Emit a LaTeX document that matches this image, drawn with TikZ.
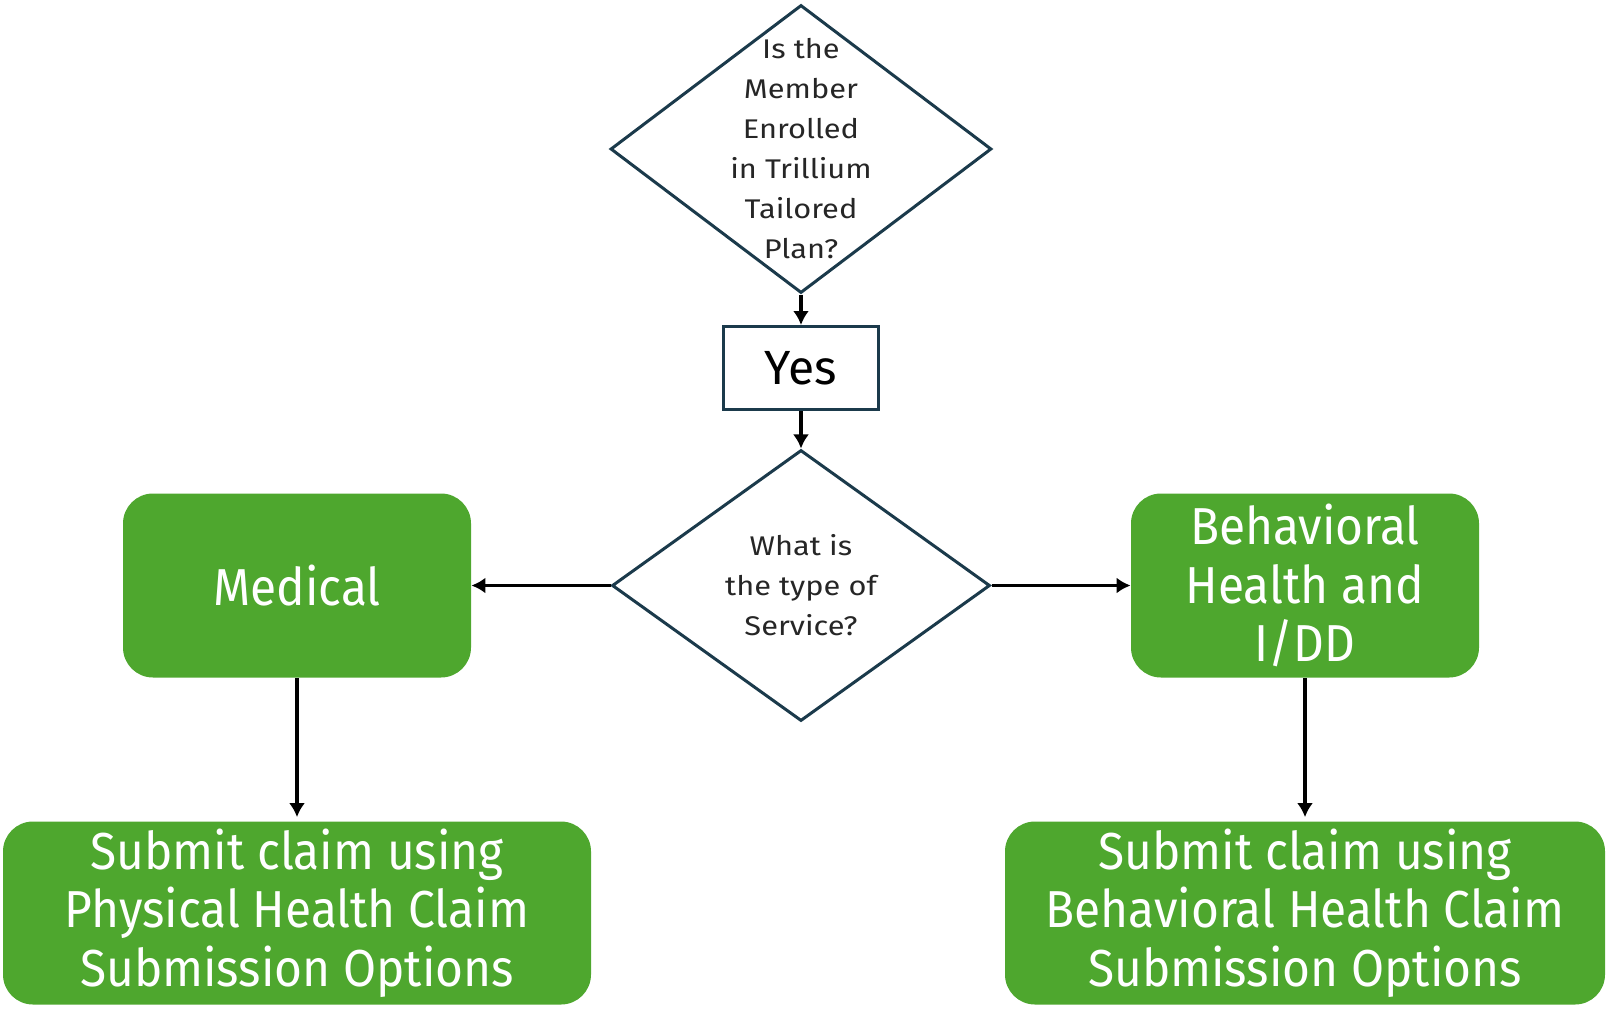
\documentclass[tikz,border=0pt]{standalone}
\usepackage{fontspec}
\setmainfont{Fira Sans}
\newfontfamily\askfont[FakeStretch=1.14]{Fira Sans}
\newfontfamily\boxfont[FakeStretch=0.92]{Fira Sans}
\usetikzlibrary{arrows.meta,positioning,shapes.geometric}

\definecolor{leafgreen}{RGB}{78,167,46}
\definecolor{navy}{RGB}{27,58,75}
\definecolor{inkgray}{RGB}{38,38,38}

\tikzset{
  decision/.style={diamond, draw=navy, line width=1.5pt, fill=white, inner sep=0pt},
  asktext/.style={text=inkgray, align=center, inner sep=0pt, font=\askfont\fontsize{13.5}{20}\selectfont},
  answer/.style={rectangle, draw=navy, line width=1.5pt, minimum width=77.5pt, minimum height=41.5pt, font=\fontsize{24}{28}\selectfont},
  service/.style={rectangle, rounded corners=15pt, fill=leafgreen, text=white, align=center, minimum height=92pt, font=\boxfont\fontsize{26}{29.3}\selectfont},
  flow/.style={->, >={Latex[length=7pt,width=8pt]}, line width=1.6pt}
}

\begin{document}
\begin{tikzpicture}[x=0.5pt,y=-0.5pt,node distance=2cm,on grid]
  \useasboundingbox (0,0) rectangle (1613,1008);

  % questions and the yes answer down the middle
  \node [decision, minimum width=190.5pt, minimum height=144pt,
         label={[asktext]center:Is the\\Member\\Enrolled\\in Trillium\\Tailored\\Plan?}] (enrolled) at (801,149) {};
  \node [answer] (yes) [below=109.5pt of enrolled] {Yes};
  \node [decision, minimum width=189pt, minimum height=135.5pt,
         label={[asktext]center:What is\\the type of\\Service?}] (svctype) [below=108.75pt of yes] {};

  % the two kinds of service
  \node [service, minimum width=174pt] (medical) [left=252pt of svctype] {Medical};
  \node [service, minimum width=174pt] (behav) [right=252pt of svctype] {Behavioral\\Health and\\I/DD};

  % where the claim goes
  \node [service, minimum width=294pt, minimum height=91.5pt] (physclaim) [below=163.75pt of medical] {Submit claim using\\Physical Health Claim\\Submission Options};
  \node [service, minimum width=300pt, minimum height=91.5pt] (behclaim) [below=163.75pt of behav] {Submit claim using\\Behavioral Health Claim\\Submission Options};

  \path [flow]
    (enrolled) edge (yes)
    (yes)      edge (svctype)
    (svctype)  edge (medical)
               edge (behav)
    (medical)  edge [shorten >=2pt] (physclaim)
    (behav)    edge [shorten >=2pt] (behclaim);
\end{tikzpicture}
\end{document}
